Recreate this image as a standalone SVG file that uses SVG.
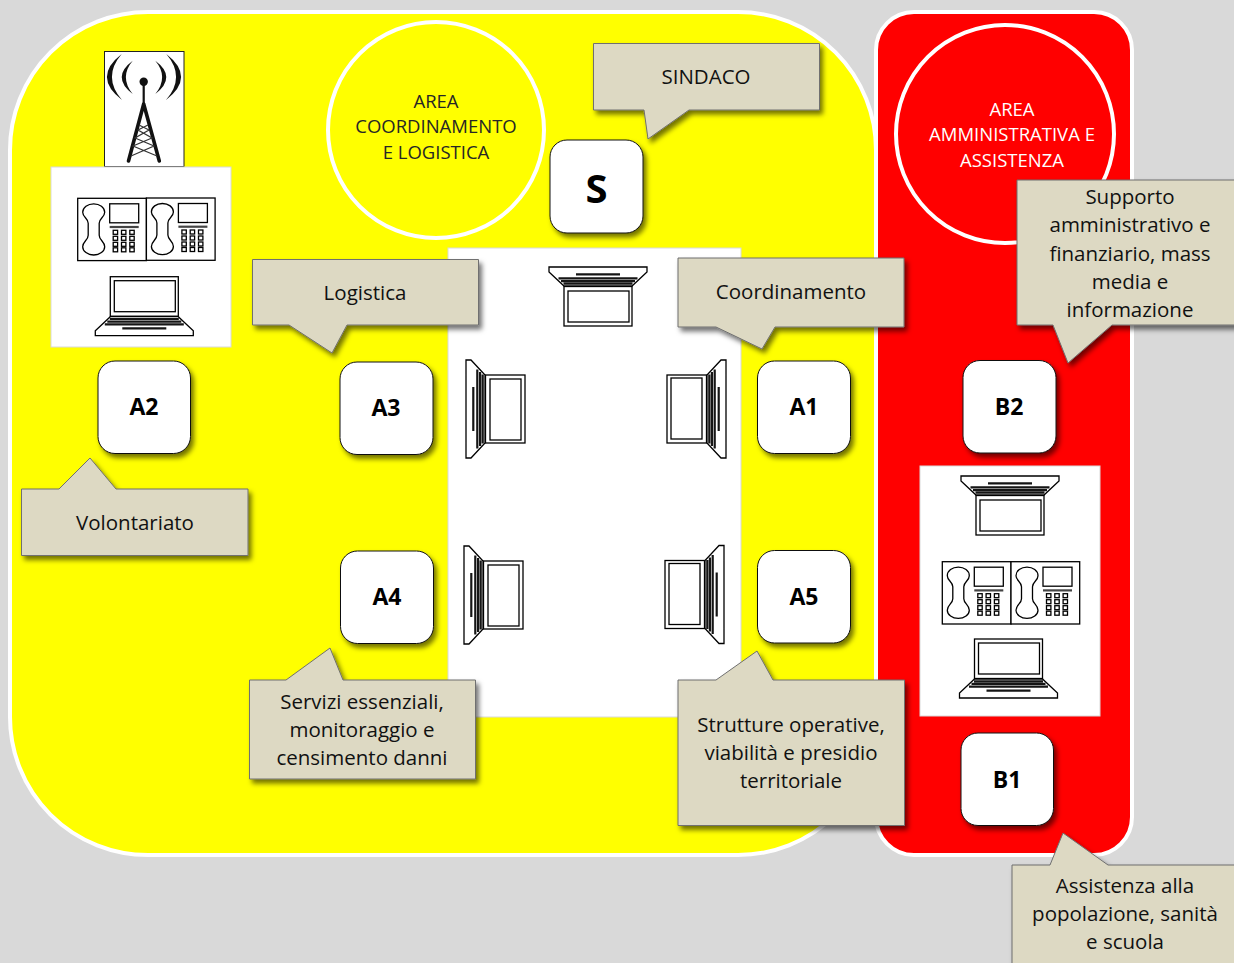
<svg xmlns="http://www.w3.org/2000/svg" width="1234" height="963" viewBox="0 0 1234 963">
<style>
text{font-family:"Open Sans","Noto Sans","Liberation Sans",sans-serif;text-anchor:middle}
.panel{fill:#fff;stroke:#d9d9d9;stroke-width:1}
.area{stroke:#fff;stroke-width:4}
.ct{font-size:18.5px;fill:#262626}
.cw{font-size:18.5px;fill:#fff}
.call{fill:#ddd9c3;stroke:#6f6f6f;stroke-width:1;filter:url(#sh)}
.lab{font-size:20.5px;fill:#111}
.node{fill:#fff;stroke:#111;stroke-width:1;filter:url(#sh)}
.nt{font-size:23px;font-weight:700;fill:#000}
.ln{fill:none;stroke:#000;stroke-width:1.3}
.lw{fill:#fff;stroke:#000;stroke-width:1.3}
.kb{fill:none;stroke:#151515;stroke-width:2.2}
</style>
<defs>
<filter id="sh" x="-20%" y="-20%" width="140%" height="140%"><feDropShadow dx="3" dy="4" stdDeviation="2.500" flood-color="#000" flood-opacity="0.55"/></filter>
<g id="laptop">
<rect class="lw" x="0" y="0" width="68" height="39.500"/>
<rect class="lw" x="4" y="4" width="61" height="31"/>
<path class="lw" d="M0 40H68L83 54V59H-15V54Z"/>
<path class="kb" d="M-0.500 42.300H68.500M-3 44.900H71M-5.500 47.700H73.500"/>
<path class="kb" d="M12 51.700H56" stroke-width="2.500"/>
</g>
<g id="phone">
<rect class="lw" x="0" y="0" width="68.700" height="62.300"/>
<path class="ln" d="M16 5.500C22 5.500 27 9 27 14C27 19 21.500 20 21.500 25V37C21.500 42 27 43 27 48.500C27 53 22 56.700 16 56.700C10 56.700 5 53 5 48.500C5 43 10.500 42 10.500 37V25C10.500 20 5 19 5 14C5 9 10 5.500 16 5.500Z"/>
<rect class="ln" x="32" y="5.500" width="29" height="19"/>
<rect x="32" y="27.600" width="29" height="2.200" fill="#444"/>
<g class="ln" stroke-width="1">
<rect x="35.500" y="32" width="4.400" height="4"/><rect x="43.800" y="32" width="4.400" height="4"/><rect x="52.100" y="32" width="4.400" height="4"/>
<rect x="35.500" y="38" width="4.400" height="4"/><rect x="43.800" y="38" width="4.400" height="4"/><rect x="52.100" y="38" width="4.400" height="4"/>
<rect x="35.500" y="44" width="4.400" height="4"/><rect x="43.800" y="44" width="4.400" height="4"/><rect x="52.100" y="44" width="4.400" height="4"/>
<rect x="35.500" y="49.500" width="4.400" height="4"/><rect x="43.800" y="49.500" width="4.400" height="4"/><rect x="52.100" y="49.500" width="4.400" height="4"/>
</g>
</g>
</defs>
<rect width="1234" height="963" fill="#d9d9d9"/>

<g id="area-coordinamento">
<rect class="area" x="10" y="12" width="866" height="843" rx="138" fill="#ff0"/>
<circle cx="436" cy="130" r="108" fill="#ff0" stroke="#fff" stroke-width="4"/>
<text class="ct" x="436" y="108">AREA</text>
<text class="ct" x="436" y="133">COORDINAMENTO</text>
<text class="ct" x="436" y="159">E LOGISTICA</text>
</g>
<g id="area-amministrativa">
<rect class="area" x="876" y="12" width="256" height="843" rx="38" fill="#f00"/>
<circle cx="1005" cy="134" r="109" fill="#f00" stroke="#fff" stroke-width="4"/>
<text class="cw" x="1012" y="116">AREA</text>
<text class="cw" x="1012" y="141">AMMINISTRATIVA E</text>
<text class="cw" x="1012" y="167">ASSISTENZA</text>
</g>

<g id="tavolo-centrale">
<rect class="panel" x="448" y="248" width="293" height="469"/>
<use href="#laptop" transform="translate(564,326) scale(1,-1)"/>
<use href="#laptop" transform="translate(525,375) rotate(90)"/>
<use href="#laptop" transform="translate(667,443) rotate(-90)"/>
<use href="#laptop" transform="translate(523,561) rotate(90)"/>
<use href="#laptop" transform="translate(665,628.500) rotate(-90)"/>
</g>
<g id="postazione-radio">
<rect x="104.500" y="51.500" width="79.500" height="115" fill="#fff" stroke="#222" stroke-width="1"/>
<g id="antenna">
<path d="M121.700 54Q92 77 122 100Q102 77 121.700 54Z" fill="#111"/>
<path d="M132.700 60.700Q110.700 77 132.700 94Q119 77 132.700 60.700Z" fill="#111"/>
<path d="M166.300 54Q196 77 166 100Q186 77 166.300 54Z" fill="#111"/>
<path d="M155.300 60.700Q177.300 77 155.300 94Q169 77 155.300 60.700Z" fill="#111"/>
<circle cx="143.700" cy="81.700" r="4.200" fill="#111"/>
<path d="M143.700 84V104" stroke="#111" stroke-width="2.200"/>
<path d="M143.700 104L128.500 161M143.700 104L159.300 161" stroke="#111" stroke-width="3.600" fill="none" stroke-linecap="round"/>
<path d="M139 125L149 130L135 138L154 146L131 156M148 125L138 130L152 138L133 146L157 156" stroke="#333" stroke-width="1.200" fill="none"/>
</g>
<rect class="panel" x="51" y="167" width="180" height="180"/>
<use href="#phone" x="77.700" y="198.300"/>
<use href="#phone" x="146.400" y="198"/>
<use href="#laptop" x="110.300" y="276.700"/>
</g>
<g id="postazione-assistenza">
<rect class="panel" x="920" y="466" width="180" height="250"/>
<use href="#laptop" transform="translate(976,535) scale(1,-1)"/>
<use href="#phone" x="942.300" y="561.700"/>
<use href="#phone" x="1011" y="561.700"/>
<use href="#laptop" x="974.500" y="639"/>
</g>

<g id="sindaco-label"><path class="call" d="M593.500 43.500H819.500V110H689L648 139L644 110H593.500Z"/><text class="lab" x="706" y="84">SINDACO</text></g>
<g id="logistica-label"><path class="call" d="M252.500 259.500H478.500V325H347L332 353L289 325H252.500Z"/><text class="lab" x="365" y="299.500">Logistica</text></g>
<g id="coordinamento-label"><path class="call" d="M678 258H904V327H775L762 349L716 327H678Z"/><text class="lab" x="791" y="299">Coordinamento</text></g>
<g id="volontariato-label"><path class="call" d="M21.500 489H59L90 458L116 489H248V555.500H21.500Z"/><text class="lab" x="135" y="530">Volontariato</text></g>
<g id="servizi-label"><path class="call" d="M249.500 680H286L330 648L343 680H475.500V779H249.500Z"/>
<text class="lab" x="362" y="709">Servizi essenziali,</text><text class="lab" x="362" y="737">monitoraggio e</text><text class="lab" x="362" y="765">censimento danni</text></g>
<g id="strutture-label"><path class="call" d="M678 680H716L757 651L773 680H904.500V825.500H678Z"/>
<text class="lab" x="791" y="732">Strutture operative,</text><text class="lab" x="791" y="760">viabilità e presidio</text><text class="lab" x="791" y="788">territoriale</text></g>
<g id="supporto-label"><path class="call" d="M1017 180H1240V325H1112L1068 363L1053 325H1017Z"/>
<text class="lab" x="1130" y="204">Supporto</text><text class="lab" x="1130" y="232">amministrativo e</text><text class="lab" x="1130" y="261">finanziario, mass</text><text class="lab" x="1130" y="289">media e</text><text class="lab" x="1130" y="317">informazione</text></g>
<g id="assistenza-label"><path class="call" d="M1012 865H1050L1063 833L1108 865H1240V970H1012Z"/>
<text class="lab" x="1125" y="893">Assistenza alla</text><text class="lab" x="1125" y="921">popolazione, sanità</text><text class="lab" x="1125" y="949">e scuola</text></g>

<g id="node-S"><rect class="node" x="550" y="140" width="93" height="93" rx="17"/><text x="596.500" y="203" font-size="40" font-weight="700" fill="#000">S</text></g>
<g id="node-A2"><rect class="node" x="98" y="361" width="92.500" height="92.500" rx="17"/><text class="nt" x="144" y="415">A2</text></g>
<g id="node-A3"><rect class="node" x="340" y="362" width="93" height="92.500" rx="17"/><text class="nt" x="386" y="416">A3</text></g>
<g id="node-A1"><rect class="node" x="757.500" y="361" width="93" height="92.500" rx="17"/><text class="nt" x="804" y="415">A1</text></g>
<g id="node-A4"><rect class="node" x="340.500" y="551" width="93" height="92.500" rx="17"/><text class="nt" x="387" y="605">A4</text></g>
<g id="node-A5"><rect class="node" x="757.500" y="550.500" width="93" height="92.500" rx="17"/><text class="nt" x="804" y="605">A5</text></g>
<g id="node-B2"><rect class="node" x="963" y="360.500" width="93" height="92.500" rx="17"/><text class="nt" x="1009" y="415">B2</text></g>
<g id="node-B1"><rect class="node" x="961" y="733" width="92.500" height="92.500" rx="17"/><text class="nt" x="1007" y="788">B1</text></g>
<g id="connectors"></g>
</svg>
